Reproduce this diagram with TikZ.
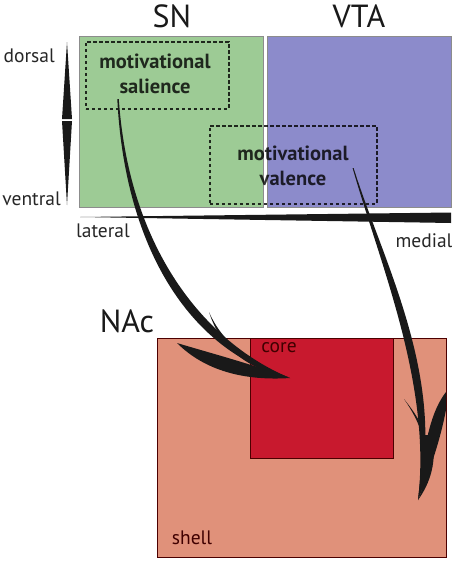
\documentclass[tikz,border=0pt]{standalone}
\usepackage{fontspec}
\setmainfont{PT Sans}
\begin{document}
\begin{tikzpicture}[x=1pt,y=-1pt,
  region/.style={draw=#1, line width=1.2pt, anchor=north west, inner sep=0pt},
  dashbox/.style={draw=black, draw opacity=0.8, dash pattern=on 3.5pt off 2.5pt, line width=1.8pt, anchor=north west, inner sep=0pt},
  boldlbl/.style={font=\fontsize{20.5}{24.5}\selectfont\bfseries, text=black, text opacity=0.8, align=center, inner sep=0pt},
  axislbl/.style={font=\fontsize{19.5}{22}\selectfont, text=black!85, inner sep=0pt},
  biglbl/.style={font=\fontsize{32}{36}\selectfont, text=black!90, inner sep=0pt},
  smalllbl/.style={font=\fontsize{19.5}{22}\selectfont, text=black!75!red, inner sep=0pt},
  ink/.style={fill=black!90, draw=none}
]
\useasboundingbox (0,0) rectangle (457,563);
\definecolor{sngreen}{HTML}{9DCB95}
\definecolor{vtablue}{HTML}{8C8BCB}
\definecolor{shellc}{HTML}{E0917A}
\definecolor{corec}{HTML}{C8192E}

% regions
\node[region=black!45, fill=sngreen, minimum width=184pt, minimum height=171pt] (sn) at (79,36) {};
\node[region=black!45, fill=vtablue, minimum width=184pt, minimum height=171pt] (vta) at (267,36) {};
\node[biglbl] (snl) at (172,16) {SN};
\node[biglbl] (vtal) at (359,16) {VTA};

\node[dashbox, minimum width=143pt, minimum height=67pt] (sal) at (85,41) {};
\node[boldlbl] (salt) at (155,74) {motivational\\salience};
\node[dashbox, minimum width=167pt, minimum height=78pt] (val) at (209,125) {};
\node[boldlbl] (valt) at (293,166) {motivational\\valence};

% axes
\coordinate (dtop) at (67,42);
\coordinate (dbot) at (67,205);
\fill[black!90] (dtop) -- (72,119) -- (62,119) -- cycle;
\fill[black!90] (62,121) -- (72,121) -- (dbot) -- cycle;
\node[axislbl, anchor=east] (dors) at (55,56) {dorsal};
\node[axislbl, anchor=east] (vent) at (61,199) {ventral};

\coordinate (ltip) at (80,217);
\fill[black!90] (ltip) -- (451,212.5) -- (451,223) -- cycle;
\node[axislbl] (lat) at (103,231) {lateral};
\node[axislbl] (med) at (424,241) {medial};

% NAc
\node[biglbl] (nac) at (127,321) {NAc};
\node[region=black!70!red, line width=1.4pt, fill=shellc, minimum width=289pt, minimum height=219pt] (shell) at (157,338) {};
\node[region=black!70!red, line width=1.2pt, fill=corec, minimum width=143pt, minimum height=120pt] (core) at (250,338) {};
\node[smalllbl] (corel) at (279,348) {core};
\node[smalllbl] (shelll) at (192,538) {shell};

% salience -> core arrow
\coordinate (s0) at (118,99);
\coordinate (s1) at (290,378);
\fill[ink] (117.3,99) .. controls (125,253) and (194,354) .. (s1)
   .. controls (204,342) and (129,248) .. (118.8,99) -- cycle;
\fill[ink] (209,312) .. controls (222,342) and (248,362) .. (288,377)
   .. controls (250,370) and (221,350) .. cycle;
\fill[ink] (177,343) .. controls (210,353) and (245,362) .. (s1)
   .. controls (245,381) and (205,371) .. cycle;

% valence -> shell arrow
\coordinate (v0) at (353,168);
\coordinate (v1) at (418,500);
\fill[ink] (352.6,168) .. controls (380,264) and (432,385) .. (v1)
   .. controls (447,378) and (383,262) .. (353.6,168) -- cycle;
\fill[ink] (404,399) .. controls (415,415) and (423,430) .. (426,455)
   .. controls (428,432) and (419,418) .. cycle;
\fill[ink] (446,392) .. controls (432,410) and (424,440) .. (418,500)
   .. controls (436,455) and (442,430) .. (446,410) -- cycle;
\fill[ink] (422,435) .. controls (428,460) and (426,482) .. (v1)
   .. controls (434,478) and (436,455) .. (432,435) -- cycle;
\end{tikzpicture}
\end{document}
